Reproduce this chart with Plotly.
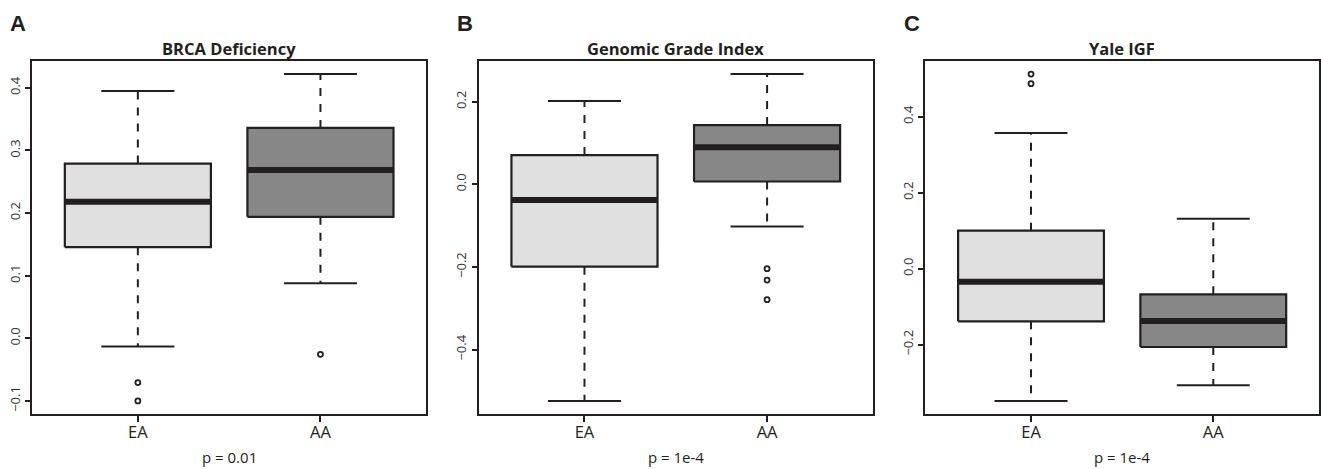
import plotly.graph_objects as go

# ---------------- data ----------------
groups = ["EA", "AA"]
panel_letters = ["A", "B", "C"]
panel_titles = ["BRCA Deficiency", "Genomic Grade Index", "Yale IGF"]
p_values = ["p = 0.01", "p = 1e-4", "p = 1e-4"]

# per panel: [EA, AA]
lower_whisker = [[-0.013, 0.088], [-0.524, -0.102], [-0.348, -0.307]]
q1_vals       = [[0.1455, 0.194], [-0.199, 0.007], [-0.1385, -0.206]]
median_vals   = [[0.218, 0.269], [-0.038, 0.090], [-0.034, -0.1376]]
q3_vals       = [[0.279, 0.336], [0.071, 0.1435], [0.100, -0.0675]]
upper_whisker = [[0.395, 0.422], [0.202, 0.267], [0.357, 0.1316]]
outliers      = [[[-0.0707, -0.100], [-0.0255]],
                 [[], [-0.204, -0.2315, -0.279]],
                 [[0.5123, 0.487], []]]

y_tickvals = [[-0.1, 0.0, 0.1, 0.2, 0.3, 0.4],
              [-0.4, -0.2, 0.0, 0.2],
              [-0.2, 0.0, 0.2, 0.4]]
y_ticktext = [["\u22120.1", "0.0", "0.1", "0.2", "0.3", "0.4"],
              ["\u22120.4", "\u22120.2", "0.0", "0.2"],
              ["\u22120.2", "0.0", "0.2", "0.4"]]

fills = ["#E0E0E0", "#878787"]
INK = "#231F20"
W, H = 1321, 469
FONT = "Open Sans"

# layout geometry (pixels)
left_px = [32, 479.3, 926.7]
plot_w = 395
top_px, bot_px = 61, 414
box_half = 0.4
cap_half = 0.2

fig = go.Figure()
layout = dict(width=W, height=H, margin=dict(l=0, r=0, t=0, b=0),
              paper_bgcolor="white", plot_bgcolor="white", showlegend=False)
annotations = []

for p in range(3):
    sfx = "" if p == 0 else str(p + 1)
    xa, ya = "x" + sfx, "y" + sfx
    allv = lower_whisker[p] + upper_whisker[p] + [v for g in outliers[p] for v in g]
    lo, hi = min(allv), max(allv)
    pad = 0.04 * (hi - lo)
    for g in range(2):
        xc = g + 1
        # whiskers (dashed)
        fig.add_trace(go.Scatter(x=[xc, xc, None, xc, xc],
                                 y=[q3_vals[p][g], upper_whisker[p][g], None,
                                    q1_vals[p][g], lower_whisker[p][g]],
                                 mode="lines", xaxis=xa, yaxis=ya,
                                 line=dict(color=INK, width=2, dash="8px,8px"),
                                 hoverinfo="skip"))
        # caps
        fig.add_trace(go.Scatter(x=[xc - cap_half, xc + cap_half, None, xc - cap_half, xc + cap_half],
                                 y=[upper_whisker[p][g], upper_whisker[p][g], None,
                                    lower_whisker[p][g], lower_whisker[p][g]],
                                 mode="lines", xaxis=xa, yaxis=ya,
                                 line=dict(color=INK, width=2), hoverinfo="skip"))
        # box
        fig.add_trace(go.Scatter(x=[xc - box_half, xc + box_half, xc + box_half, xc - box_half, xc - box_half],
                                 y=[q1_vals[p][g], q1_vals[p][g], q3_vals[p][g], q3_vals[p][g], q1_vals[p][g]],
                                 mode="lines", fill="toself", fillcolor=fills[g],
                                 xaxis=xa, yaxis=ya,
                                 line=dict(color=INK, width=2.2), hoverinfo="skip"))
        # median
        fig.add_trace(go.Scatter(x=[xc - box_half, xc + box_half],
                                 y=[median_vals[p][g], median_vals[p][g]],
                                 mode="lines", xaxis=xa, yaxis=ya,
                                 line=dict(color=INK, width=6), hoverinfo="skip"))
        # outliers
        if outliers[p][g]:
            fig.add_trace(go.Scatter(x=[xc] * len(outliers[p][g]), y=outliers[p][g],
                                     mode="markers", xaxis=xa, yaxis=ya,
                                     marker=dict(symbol="circle-open", size=5, color=INK,
                                                 line=dict(width=1.8, color=INK)),
                                     hoverinfo="skip"))

    d0 = left_px[p] / W
    d1 = min(1.0, (left_px[p] + plot_w) / W)
    layout["xaxis" + sfx] = dict(domain=[d0, d1], range=[0.42, 2.58], anchor=ya,
                                 tickvals=[1, 2], ticktext=groups, ticks="outside",
                                 ticklen=6, tickwidth=2, tickcolor=INK,
                                 ticklabelstandoff=-4,
                                 showline=True, linewidth=2, linecolor=INK, mirror=True,
                                 showgrid=False, zeroline=False, fixedrange=True,
                                 tickfont=dict(family=FONT, size=16.5, color=INK))
    layout["yaxis" + sfx] = dict(domain=[(H - bot_px) / H, (H - top_px) / H],
                                 range=[lo - pad, hi + pad], anchor=xa,
                                 tickvals=y_tickvals[p], ticktext=y_ticktext[p],
                                 ticks="outside", ticklen=5, tickwidth=1.5, tickcolor=INK,
                                 tickangle=-90,
                                 showline=True, linewidth=2, linecolor=INK, mirror=True,
                                 showgrid=False, zeroline=False, fixedrange=True,
                                 tickfont=dict(family=FONT, size=13, color="#333333"))
    cx = (left_px[p] + plot_w / 2) / W
    annotations.append(dict(text="<b>" + panel_titles[p] + "</b>", x=cx, y=(H - 48) / H,
                            xref="paper", yref="paper", showarrow=False,
                            xanchor="center", yanchor="middle",
                            font=dict(family=FONT, size=16.5, color=INK)))
    annotations.append(dict(text=p_values[p], x=cx, y=(H - 457) / H,
                            xref="paper", yref="paper", showarrow=False,
                            xanchor="center", yanchor="middle",
                            font=dict(family=FONT, size=15, color=INK)))
    letter_x = [18, 466, 913][p]
    annotations.append(dict(text="<b>" + panel_letters[p] + "</b>", x=letter_x / W, y=(H - 23) / H,
                            xref="paper", yref="paper", showarrow=False,
                            xanchor="center", yanchor="middle",
                            font=dict(family="Liberation Sans", size=22, color=INK)))

layout["annotations"] = annotations
fig.update_layout(**layout)
fig.write_html("out.html", config={"displayModeBar": False},
               post_script="document.body.style.margin='0';document.body.style.overflow='hidden';")
